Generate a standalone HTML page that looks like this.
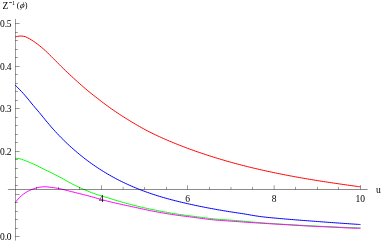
<!DOCTYPE html>
<html><head><meta charset="utf-8"><title>Plot</title>
<style>
html,body{margin:0;padding:0;background:#fff;}
body{width:382px;height:242px;overflow:hidden;font-family:"Liberation Serif",serif;}
svg{display:block;will-change:transform;}
</style></head><body>
<svg width="382" height="242" viewBox="0 0 382 242">
<path d="M15.25 36.99C15.58 36.90 16.58 36.61 17.25 36.46C17.92 36.32 18.58 36.18 19.25 36.10C19.92 36.03 20.58 36.01 21.25 36.03C21.92 36.05 22.58 36.14 23.25 36.24C23.92 36.35 24.58 36.44 25.25 36.66C25.92 36.88 26.58 37.24 27.25 37.58C27.92 37.91 28.58 38.28 29.25 38.66C29.92 39.04 30.58 39.44 31.25 39.84C31.92 40.25 32.58 40.68 33.25 41.12C33.92 41.55 34.58 42.01 35.25 42.48C35.92 42.94 36.58 43.43 37.25 43.93C37.92 44.43 38.58 44.95 39.25 45.48C39.92 46.01 40.58 46.55 41.25 47.10C41.92 47.66 42.58 48.22 43.25 48.80C43.92 49.38 44.58 49.96 45.25 50.58C45.92 51.19 46.58 51.84 47.25 52.49C47.92 53.14 48.58 53.81 49.25 54.47C49.92 55.13 50.58 55.79 51.25 56.46C51.92 57.12 52.58 57.79 53.25 58.46C53.92 59.13 54.58 59.81 55.25 60.48C55.92 61.16 56.58 61.83 57.25 62.51C57.92 63.18 58.58 63.85 59.25 64.52C59.92 65.19 60.58 65.87 61.25 66.54C61.92 67.21 62.58 67.87 63.25 68.52C63.92 69.17 64.58 69.79 65.25 70.43C65.92 71.06 66.58 71.68 67.25 72.31C67.92 72.94 68.58 73.56 69.25 74.18C69.92 74.81 70.58 75.43 71.25 76.04C71.92 76.66 72.58 77.27 73.25 77.89C73.92 78.50 74.58 79.11 75.25 79.71C75.92 80.32 76.58 80.92 77.25 81.52C77.92 82.13 78.58 82.72 79.25 83.32C79.92 83.91 80.58 84.51 81.25 85.09C81.92 85.68 82.58 86.27 83.25 86.85C83.92 87.43 84.58 88.02 85.25 88.59C85.92 89.16 86.58 89.73 87.25 90.28C87.92 90.84 88.58 91.38 89.25 91.93C89.92 92.47 90.58 93.00 91.25 93.53C91.92 94.06 92.58 94.58 93.25 95.10C93.92 95.62 94.58 96.14 95.25 96.66C95.92 97.17 96.58 97.69 97.25 98.20C97.92 98.72 98.58 99.23 99.25 99.75C99.92 100.27 100.58 100.79 101.25 101.30C101.92 101.82 102.58 102.33 103.25 102.83C103.92 103.34 104.58 103.84 105.25 104.33C105.92 104.83 106.58 105.32 107.25 105.81C107.92 106.30 108.58 106.78 109.25 107.26C109.92 107.74 110.58 108.21 111.25 108.68C111.92 109.15 112.58 109.62 113.25 110.08C113.92 110.54 114.58 111.00 115.25 111.46C115.92 111.91 116.58 112.36 117.25 112.81C117.92 113.25 118.58 113.69 119.25 114.13C119.92 114.57 120.58 115.00 121.25 115.43C121.92 115.86 122.58 116.29 123.25 116.71C123.92 117.13 124.58 117.55 125.25 117.97C125.92 118.38 126.58 118.80 127.25 119.21C127.92 119.62 128.58 120.03 129.25 120.44C129.92 120.85 130.58 121.26 131.25 121.66C131.92 122.07 132.58 122.47 133.25 122.87C133.92 123.27 134.58 123.67 135.25 124.06C135.92 124.46 136.58 124.85 137.25 125.24C137.92 125.62 138.58 126.01 139.25 126.39C139.92 126.77 140.58 127.15 141.25 127.52C141.92 127.90 142.58 128.27 143.25 128.63C143.92 129.00 144.58 129.36 145.25 129.72C145.92 130.07 146.58 130.42 147.25 130.77C147.92 131.12 148.58 131.46 149.25 131.80C149.92 132.13 150.58 132.46 151.25 132.79C151.92 133.12 152.58 133.45 153.25 133.77C153.92 134.09 154.58 134.41 155.25 134.73C155.92 135.05 156.58 135.36 157.25 135.68C157.92 135.99 158.58 136.30 159.25 136.60C159.92 136.91 160.58 137.22 161.25 137.52C161.92 137.82 162.58 138.12 163.25 138.42C163.92 138.71 164.58 139.01 165.25 139.30C165.92 139.59 166.58 139.88 167.25 140.17C167.92 140.46 168.58 140.74 169.25 141.02C169.92 141.31 170.58 141.59 171.25 141.86C171.92 142.14 172.58 142.42 173.25 142.69C173.92 142.97 174.58 143.24 175.25 143.51C175.92 143.78 176.58 144.05 177.25 144.31C177.92 144.58 178.58 144.84 179.25 145.10C179.92 145.37 180.58 145.63 181.25 145.88C181.92 146.14 182.58 146.40 183.25 146.65C183.92 146.91 184.58 147.16 185.25 147.41C185.92 147.66 186.58 147.91 187.25 148.16C187.92 148.41 188.58 148.65 189.25 148.90C189.92 149.14 190.58 149.38 191.25 149.62C191.92 149.87 192.58 150.10 193.25 150.34C193.92 150.58 194.58 150.82 195.25 151.05C195.92 151.29 196.58 151.52 197.25 151.75C197.92 151.99 198.58 152.22 199.25 152.44C199.92 152.67 200.58 152.90 201.25 153.13C201.92 153.35 202.58 153.58 203.25 153.80C203.92 154.02 204.58 154.24 205.25 154.46C205.92 154.68 206.58 154.90 207.25 155.12C207.92 155.34 208.58 155.55 209.25 155.77C209.92 155.98 210.58 156.19 211.25 156.41C211.92 156.62 212.58 156.83 213.25 157.04C213.92 157.25 214.58 157.45 215.25 157.66C215.92 157.86 216.58 158.07 217.25 158.27C217.92 158.48 218.58 158.68 219.25 158.88C219.92 159.08 220.58 159.28 221.25 159.47C221.92 159.67 222.58 159.87 223.25 160.06C223.92 160.26 224.58 160.45 225.25 160.65C225.92 160.84 226.58 161.03 227.25 161.22C227.92 161.41 228.58 161.60 229.25 161.79C229.92 161.97 230.58 162.16 231.25 162.34C231.92 162.53 232.58 162.71 233.25 162.90C233.92 163.08 234.58 163.26 235.25 163.44C235.92 163.62 236.58 163.80 237.25 163.98C237.92 164.15 238.58 164.33 239.25 164.50C239.92 164.68 240.58 164.85 241.25 165.03C241.92 165.20 242.58 165.37 243.25 165.54C243.92 165.71 244.58 165.88 245.25 166.05C245.92 166.22 246.58 166.39 247.25 166.55C247.92 166.72 248.58 166.88 249.25 167.05C249.92 167.21 250.58 167.37 251.25 167.53C251.92 167.70 252.58 167.86 253.25 168.02C253.92 168.18 254.58 168.33 255.25 168.49C255.92 168.65 256.58 168.80 257.25 168.96C257.92 169.11 258.58 169.27 259.25 169.42C259.92 169.58 260.58 169.73 261.25 169.88C261.92 170.03 262.58 170.18 263.25 170.33C263.92 170.48 264.58 170.63 265.25 170.77C265.92 170.92 266.58 171.07 267.25 171.21C267.92 171.36 268.58 171.50 269.25 171.64C269.92 171.79 270.58 171.93 271.25 172.07C271.92 172.21 272.58 172.35 273.25 172.49C273.92 172.63 274.58 172.77 275.25 172.91C275.92 173.05 276.58 173.18 277.25 173.32C277.92 173.46 278.58 173.59 279.25 173.72C279.92 173.86 280.58 173.99 281.25 174.12C281.92 174.26 282.58 174.39 283.25 174.52C283.92 174.65 284.58 174.78 285.25 174.91C285.92 175.04 286.58 175.17 287.25 175.30C287.92 175.42 288.58 175.55 289.25 175.68C289.92 175.80 290.58 175.93 291.25 176.05C291.92 176.18 292.58 176.30 293.25 176.42C293.92 176.54 294.58 176.67 295.25 176.79C295.92 176.91 296.58 177.03 297.25 177.15C297.92 177.27 298.58 177.39 299.25 177.51C299.92 177.63 300.58 177.74 301.25 177.86C301.92 177.98 302.58 178.10 303.25 178.21C303.92 178.33 304.58 178.44 305.25 178.56C305.92 178.67 306.58 178.78 307.25 178.90C307.92 179.01 308.58 179.12 309.25 179.24C309.92 179.35 310.58 179.46 311.25 179.57C311.92 179.68 312.58 179.79 313.25 179.90C313.92 180.01 314.58 180.12 315.25 180.23C315.92 180.33 316.58 180.44 317.25 180.55C317.92 180.66 318.58 180.76 319.25 180.87C319.92 180.97 320.58 181.08 321.25 181.18C321.92 181.29 322.58 181.39 323.25 181.50C323.92 181.60 324.58 181.71 325.25 181.81C325.92 181.91 326.58 182.01 327.25 182.12C327.92 182.22 328.58 182.32 329.25 182.42C329.92 182.52 330.58 182.62 331.25 182.72C331.92 182.82 332.58 182.92 333.25 183.02C333.92 183.12 334.58 183.22 335.25 183.32C335.92 183.41 336.58 183.51 337.25 183.61C337.92 183.71 338.58 183.80 339.25 183.90C339.92 184.00 340.58 184.09 341.25 184.19C341.92 184.28 342.58 184.38 343.25 184.48C343.92 184.57 344.58 184.67 345.25 184.76C345.92 184.85 346.58 184.95 347.25 185.04C347.92 185.14 348.58 185.23 349.25 185.32C349.92 185.42 350.58 185.51 351.25 185.60C351.92 185.69 352.58 185.79 353.25 185.88C353.92 185.97 354.58 186.06 355.25 186.15C355.92 186.25 356.58 186.34 357.25 186.43C357.92 186.52 358.72 186.63 359.25 186.70C359.78 186.77 360.25 186.84 360.45 186.86" stroke="#ff0000" stroke-width="1.0" fill="none" stroke-linejoin="round"/>
<path d="M15.25 85.15C15.58 85.49 16.58 86.48 17.25 87.15C17.92 87.83 18.58 88.52 19.25 89.21C19.92 89.90 20.58 90.58 21.25 91.29C21.92 91.99 22.58 92.69 23.25 93.43C23.92 94.17 24.58 94.95 25.25 95.72C25.92 96.50 26.58 97.27 27.25 98.07C27.92 98.86 28.58 99.67 29.25 100.50C29.92 101.32 30.58 102.20 31.25 103.02C31.92 103.85 32.58 104.63 33.25 105.43C33.92 106.22 34.58 107.00 35.25 107.79C35.92 108.57 36.58 109.35 37.25 110.13C37.92 110.91 38.58 111.69 39.25 112.48C39.92 113.26 40.58 114.05 41.25 114.86C41.92 115.67 42.58 116.52 43.25 117.35C43.92 118.18 44.58 119.02 45.25 119.84C45.92 120.66 46.58 121.46 47.25 122.26C47.92 123.06 48.58 123.86 49.25 124.64C49.92 125.43 50.58 126.21 51.25 126.97C51.92 127.74 52.58 128.49 53.25 129.23C53.92 129.98 54.58 130.72 55.25 131.44C55.92 132.17 56.58 132.89 57.25 133.60C57.92 134.31 58.58 135.00 59.25 135.69C59.92 136.38 60.58 137.06 61.25 137.74C61.92 138.41 62.58 139.08 63.25 139.73C63.92 140.39 64.58 141.04 65.25 141.69C65.92 142.33 66.58 142.97 67.25 143.60C67.92 144.23 68.58 144.85 69.25 145.47C69.92 146.08 70.58 146.69 71.25 147.29C71.92 147.89 72.58 148.49 73.25 149.08C73.92 149.67 74.58 150.25 75.25 150.82C75.92 151.40 76.58 151.96 77.25 152.52C77.92 153.09 78.58 153.64 79.25 154.19C79.92 154.74 80.58 155.28 81.25 155.82C81.92 156.35 82.58 156.88 83.25 157.40C83.92 157.93 84.58 158.44 85.25 158.96C85.92 159.47 86.58 159.97 87.25 160.47C87.92 160.97 88.58 161.46 89.25 161.95C89.92 162.44 90.58 162.92 91.25 163.40C91.92 163.87 92.58 164.34 93.25 164.81C93.92 165.27 94.58 165.73 95.25 166.18C95.92 166.64 96.58 167.09 97.25 167.53C97.92 167.97 98.58 168.41 99.25 168.84C99.92 169.27 100.58 169.70 101.25 170.12C101.92 170.55 102.58 170.96 103.25 171.37C103.92 171.79 104.58 172.19 105.25 172.60C105.92 173.00 106.58 173.40 107.25 173.79C107.92 174.18 108.58 174.57 109.25 174.95C109.92 175.34 110.58 175.71 111.25 176.09C111.92 176.46 112.58 176.83 113.25 177.20C113.92 177.56 114.58 177.92 115.25 178.28C115.92 178.63 116.58 178.98 117.25 179.33C117.92 179.68 118.58 180.02 119.25 180.36C119.92 180.70 120.58 181.03 121.25 181.36C121.92 181.69 122.58 182.02 123.25 182.34C123.92 182.66 124.58 182.98 125.25 183.29C125.92 183.61 126.58 183.92 127.25 184.22C127.92 184.53 128.58 184.83 129.25 185.13C129.92 185.43 130.58 185.72 131.25 186.01C131.92 186.30 132.58 186.59 133.25 186.88C133.92 187.16 134.58 187.44 135.25 187.71C135.92 187.99 136.58 188.26 137.25 188.53C137.92 188.80 138.58 189.07 139.25 189.33C139.92 189.59 140.58 189.85 141.25 190.11C141.92 190.36 142.58 190.61 143.25 190.86C143.92 191.11 144.58 191.36 145.25 191.60C145.92 191.85 146.58 192.08 147.25 192.32C147.92 192.56 148.58 192.79 149.25 193.02C149.92 193.25 150.58 193.48 151.25 193.71C151.92 193.93 152.58 194.15 153.25 194.37C153.92 194.59 154.58 194.81 155.25 195.02C155.92 195.24 156.58 195.45 157.25 195.66C157.92 195.87 158.58 196.07 159.25 196.28C159.92 196.48 160.58 196.68 161.25 196.88C161.92 197.08 162.58 197.27 163.25 197.47C163.92 197.66 164.58 197.85 165.25 198.04C165.92 198.23 166.58 198.42 167.25 198.60C167.92 198.79 168.58 198.97 169.25 199.15C169.92 199.33 170.58 199.51 171.25 199.69C171.92 199.87 172.58 200.04 173.25 200.21C173.92 200.39 174.58 200.56 175.25 200.73C175.92 200.90 176.58 201.06 177.25 201.23C177.92 201.40 178.58 201.56 179.25 201.72C179.92 201.88 180.58 202.04 181.25 202.20C181.92 202.36 182.58 202.52 183.25 202.68C183.92 202.83 184.58 202.99 185.25 203.14C185.92 203.29 186.58 203.45 187.25 203.60C187.92 203.75 188.58 203.90 189.25 204.05C189.92 204.19 190.58 204.34 191.25 204.49C191.92 204.63 192.58 204.78 193.25 204.92C193.92 205.07 194.58 205.21 195.25 205.35C195.92 205.49 196.58 205.63 197.25 205.77C197.92 205.91 198.58 206.05 199.25 206.18C199.92 206.32 200.58 206.46 201.25 206.59C201.92 206.72 202.58 206.86 203.25 206.99C203.92 207.12 204.58 207.25 205.25 207.38C205.92 207.51 206.58 207.64 207.25 207.77C207.92 207.90 208.58 208.03 209.25 208.15C209.92 208.28 210.58 208.40 211.25 208.53C211.92 208.65 212.58 208.77 213.25 208.89C213.92 209.02 214.58 209.14 215.25 209.26C215.92 209.38 216.58 209.50 217.25 209.61C217.92 209.73 218.58 209.85 219.25 209.96C219.92 210.08 220.58 210.19 221.25 210.31C221.92 210.42 222.58 210.53 223.25 210.65C223.92 210.76 224.58 210.87 225.25 210.98C225.92 211.09 226.58 211.20 227.25 211.31C227.92 211.41 228.58 211.52 229.25 211.63C229.92 211.73 230.58 211.84 231.25 211.94C231.92 212.05 232.58 212.15 233.25 212.25C233.92 212.36 234.58 212.46 235.25 212.56C235.92 212.66 236.58 212.76 237.25 212.86C237.92 212.96 238.58 213.05 239.25 213.15C239.92 213.25 240.58 213.35 241.25 213.45C241.92 213.55 242.58 213.66 243.25 213.76C243.92 213.87 244.58 213.98 245.25 214.09C245.92 214.21 246.58 214.32 247.25 214.43C247.92 214.55 248.58 214.67 249.25 214.78C249.92 214.90 250.58 215.01 251.25 215.13C251.92 215.24 252.58 215.36 253.25 215.47C253.92 215.58 254.58 215.69 255.25 215.80C255.92 215.91 256.58 216.01 257.25 216.11C257.92 216.22 258.58 216.31 259.25 216.41C259.92 216.50 260.58 216.59 261.25 216.67C261.92 216.76 262.58 216.84 263.25 216.91C263.92 216.99 264.58 217.06 265.25 217.14C265.92 217.21 266.58 217.28 267.25 217.35C267.92 217.41 268.58 217.48 269.25 217.54C269.92 217.61 270.58 217.67 271.25 217.74C271.92 217.80 272.58 217.86 273.25 217.92C273.92 217.98 274.58 218.04 275.25 218.11C275.92 218.17 276.58 218.23 277.25 218.29C277.92 218.35 278.58 218.41 279.25 218.47C279.92 218.53 280.58 218.59 281.25 218.65C281.92 218.71 282.58 218.77 283.25 218.82C283.92 218.88 284.58 218.94 285.25 219.00C285.92 219.05 286.58 219.11 287.25 219.16C287.92 219.22 288.58 219.28 289.25 219.33C289.92 219.39 290.58 219.44 291.25 219.50C291.92 219.55 292.58 219.61 293.25 219.66C293.92 219.71 294.58 219.77 295.25 219.82C295.92 219.88 296.58 219.93 297.25 219.98C297.92 220.04 298.58 220.09 299.25 220.14C299.92 220.19 300.58 220.24 301.25 220.29C301.92 220.34 302.58 220.39 303.25 220.44C303.92 220.49 304.58 220.54 305.25 220.59C305.92 220.64 306.58 220.69 307.25 220.74C307.92 220.79 308.58 220.84 309.25 220.89C309.92 220.94 310.58 220.99 311.25 221.04C311.92 221.09 312.58 221.14 313.25 221.19C313.92 221.24 314.58 221.28 315.25 221.33C315.92 221.38 316.58 221.43 317.25 221.48C317.92 221.53 318.58 221.58 319.25 221.63C319.92 221.69 320.58 221.74 321.25 221.79C321.92 221.84 322.58 221.89 323.25 221.94C323.92 221.99 324.58 222.04 325.25 222.09C325.92 222.14 326.58 222.19 327.25 222.24C327.92 222.28 328.58 222.33 329.25 222.38C329.92 222.43 330.58 222.48 331.25 222.53C331.92 222.57 332.58 222.62 333.25 222.67C333.92 222.72 334.58 222.76 335.25 222.81C335.92 222.86 336.58 222.91 337.25 222.95C337.92 223.00 338.58 223.05 339.25 223.09C339.92 223.14 340.58 223.19 341.25 223.23C341.92 223.28 342.58 223.32 343.25 223.37C343.92 223.42 344.58 223.46 345.25 223.51C345.92 223.55 346.58 223.60 347.25 223.64C347.92 223.69 348.58 223.73 349.25 223.78C349.92 223.82 350.58 223.87 351.25 223.91C351.92 223.96 352.58 224.00 353.25 224.05C353.92 224.09 354.58 224.14 355.25 224.18C355.92 224.23 356.58 224.27 357.25 224.32C357.92 224.36 358.72 224.41 359.25 224.45C359.78 224.48 360.25 224.52 360.45 224.53" stroke="#0000ff" stroke-width="1.0" fill="none" stroke-linejoin="round"/>
<path d="M15.25 158.26C15.58 158.28 16.58 158.30 17.25 158.36C17.92 158.42 18.58 158.48 19.25 158.62C19.92 158.75 20.58 158.96 21.25 159.17C21.92 159.39 22.58 159.66 23.25 159.90C23.92 160.15 24.58 160.40 25.25 160.65C25.92 160.91 26.58 161.17 27.25 161.44C27.92 161.70 28.58 161.97 29.25 162.25C29.92 162.53 30.58 162.80 31.25 163.09C31.92 163.37 32.58 163.66 33.25 163.96C33.92 164.25 34.58 164.55 35.25 164.86C35.92 165.17 36.58 165.48 37.25 165.81C37.92 166.14 38.58 166.48 39.25 166.83C39.92 167.17 40.58 167.54 41.25 167.89C41.92 168.24 42.58 168.59 43.25 168.93C43.92 169.27 44.58 169.59 45.25 169.91C45.92 170.22 46.58 170.52 47.25 170.82C47.92 171.13 48.58 171.42 49.25 171.73C49.92 172.04 50.58 172.35 51.25 172.68C51.92 173.02 52.58 173.37 53.25 173.71C53.92 174.06 54.58 174.41 55.25 174.75C55.92 175.10 56.58 175.45 57.25 175.80C57.92 176.14 58.58 176.49 59.25 176.84C59.92 177.19 60.58 177.53 61.25 177.89C61.92 178.25 62.58 178.62 63.25 178.99C63.92 179.36 64.58 179.75 65.25 180.13C65.92 180.51 66.58 180.89 67.25 181.27C67.92 181.65 68.58 182.03 69.25 182.40C69.92 182.77 70.58 183.13 71.25 183.48C71.92 183.83 72.58 184.17 73.25 184.50C73.92 184.84 74.58 185.16 75.25 185.48C75.92 185.80 76.58 186.12 77.25 186.44C77.92 186.76 78.58 187.07 79.25 187.38C79.92 187.68 80.58 187.99 81.25 188.29C81.92 188.59 82.58 188.89 83.25 189.18C83.92 189.47 84.58 189.76 85.25 190.04C85.92 190.33 86.58 190.61 87.25 190.89C87.92 191.16 88.58 191.44 89.25 191.70C89.92 191.97 90.58 192.24 91.25 192.50C91.92 192.75 92.58 193.00 93.25 193.25C93.92 193.50 94.58 193.74 95.25 193.98C95.92 194.21 96.58 194.45 97.25 194.67C97.92 194.90 98.58 195.11 99.25 195.31C99.92 195.51 100.58 195.69 101.25 195.88C101.92 196.08 102.58 196.26 103.25 196.45C103.92 196.65 104.58 196.85 105.25 197.05C105.92 197.24 106.58 197.43 107.25 197.63C107.92 197.83 108.58 198.03 109.25 198.23C109.92 198.44 110.58 198.66 111.25 198.87C111.92 199.08 112.58 199.30 113.25 199.50C113.92 199.71 114.58 199.92 115.25 200.12C115.92 200.33 116.58 200.53 117.25 200.73C117.92 200.93 118.58 201.13 119.25 201.32C119.92 201.52 120.58 201.71 121.25 201.90C121.92 202.10 122.58 202.29 123.25 202.47C123.92 202.66 124.58 202.85 125.25 203.03C125.92 203.22 126.58 203.40 127.25 203.58C127.92 203.76 128.58 203.94 129.25 204.11C129.92 204.29 130.58 204.47 131.25 204.64C131.92 204.81 132.58 204.98 133.25 205.15C133.92 205.32 134.58 205.49 135.25 205.66C135.92 205.82 136.58 205.99 137.25 206.15C137.92 206.31 138.58 206.47 139.25 206.63C139.92 206.79 140.58 206.95 141.25 207.10C141.92 207.26 142.58 207.41 143.25 207.57C143.92 207.72 144.58 207.87 145.25 208.02C145.92 208.17 146.58 208.32 147.25 208.46C147.92 208.61 148.58 208.75 149.25 208.90C149.92 209.04 150.58 209.18 151.25 209.32C151.92 209.46 152.58 209.60 153.25 209.74C153.92 209.87 154.58 210.01 155.25 210.14C155.92 210.28 156.58 210.41 157.25 210.54C157.92 210.68 158.58 210.81 159.25 210.94C159.92 211.06 160.58 211.19 161.25 211.32C161.92 211.44 162.58 211.57 163.25 211.69C163.92 211.82 164.58 211.94 165.25 212.06C165.92 212.18 166.58 212.30 167.25 212.42C167.92 212.54 168.58 212.66 169.25 212.77C169.92 212.89 170.58 213.00 171.25 213.12C171.92 213.23 172.58 213.34 173.25 213.45C173.92 213.56 174.58 213.66 175.25 213.77C175.92 213.87 176.58 213.98 177.25 214.08C177.92 214.18 178.58 214.28 179.25 214.38C179.92 214.47 180.58 214.57 181.25 214.66C181.92 214.76 182.58 214.85 183.25 214.95C183.92 215.04 184.58 215.13 185.25 215.22C185.92 215.31 186.58 215.40 187.25 215.49C187.92 215.58 188.58 215.67 189.25 215.75C189.92 215.84 190.58 215.93 191.25 216.01C191.92 216.10 192.58 216.19 193.25 216.28C193.92 216.36 194.58 216.45 195.25 216.54C195.92 216.63 196.58 216.72 197.25 216.80C197.92 216.89 198.58 216.98 199.25 217.07C199.92 217.16 200.58 217.25 201.25 217.34C201.92 217.43 202.58 217.51 203.25 217.60C203.92 217.69 204.58 217.78 205.25 217.86C205.92 217.95 206.58 218.03 207.25 218.11C207.92 218.20 208.58 218.28 209.25 218.36C209.92 218.44 210.58 218.52 211.25 218.60C211.92 218.68 212.58 218.75 213.25 218.82C213.92 218.89 214.58 218.96 215.25 219.02C215.92 219.08 216.58 219.13 217.25 219.18C217.92 219.23 218.58 219.28 219.25 219.33C219.92 219.38 220.58 219.42 221.25 219.47C221.92 219.51 222.58 219.56 223.25 219.60C223.92 219.65 224.58 219.70 225.25 219.75C225.92 219.80 226.58 219.85 227.25 219.90C227.92 219.96 228.58 220.01 229.25 220.05C229.92 220.10 230.58 220.15 231.25 220.20C231.92 220.25 232.58 220.30 233.25 220.35C233.92 220.39 234.58 220.44 235.25 220.49C235.92 220.54 236.58 220.59 237.25 220.65C237.92 220.70 238.58 220.75 239.25 220.81C239.92 220.86 240.58 220.92 241.25 220.98C241.92 221.04 242.58 221.11 243.25 221.17C243.92 221.24 244.58 221.30 245.25 221.37C245.92 221.44 246.58 221.51 247.25 221.57C247.92 221.64 248.58 221.71 249.25 221.77C249.92 221.83 250.58 221.90 251.25 221.95C251.92 222.01 252.58 222.07 253.25 222.13C253.92 222.19 254.58 222.24 255.25 222.30C255.92 222.36 256.58 222.42 257.25 222.47C257.92 222.53 258.58 222.59 259.25 222.64C259.92 222.70 260.58 222.75 261.25 222.80C261.92 222.85 262.58 222.90 263.25 222.95C263.92 223.00 264.58 223.05 265.25 223.10C265.92 223.15 266.58 223.20 267.25 223.25C267.92 223.30 268.58 223.34 269.25 223.39C269.92 223.44 270.58 223.48 271.25 223.53C271.92 223.58 272.58 223.62 273.25 223.67C273.92 223.71 274.58 223.76 275.25 223.80C275.92 223.84 276.58 223.89 277.25 223.93C277.92 223.97 278.58 224.02 279.25 224.06C279.92 224.10 280.58 224.14 281.25 224.18C281.92 224.22 282.58 224.26 283.25 224.30C283.92 224.35 284.58 224.38 285.25 224.42C285.92 224.46 286.58 224.50 287.25 224.54C287.92 224.58 288.58 224.62 289.25 224.66C289.92 224.69 290.58 224.73 291.25 224.77C291.92 224.81 292.58 224.84 293.25 224.88C293.92 224.92 294.58 224.95 295.25 224.99C295.92 225.02 296.58 225.06 297.25 225.09C297.92 225.13 298.58 225.17 299.25 225.20C299.92 225.24 300.58 225.27 301.25 225.31C301.92 225.34 302.58 225.38 303.25 225.41C303.92 225.45 304.58 225.48 305.25 225.52C305.92 225.55 306.58 225.59 307.25 225.62C307.92 225.66 308.58 225.69 309.25 225.73C309.92 225.76 310.58 225.80 311.25 225.83C311.92 225.87 312.58 225.90 313.25 225.94C313.92 225.97 314.58 226.00 315.25 226.04C315.92 226.07 316.58 226.11 317.25 226.14C317.92 226.17 318.58 226.21 319.25 226.24C319.92 226.27 320.58 226.31 321.25 226.34C321.92 226.37 322.58 226.41 323.25 226.44C323.92 226.47 324.58 226.51 325.25 226.54C325.92 226.57 326.58 226.61 327.25 226.64C327.92 226.67 328.58 226.70 329.25 226.73C329.92 226.77 330.58 226.80 331.25 226.83C331.92 226.86 332.58 226.89 333.25 226.92C333.92 226.95 334.58 226.98 335.25 227.01C335.92 227.04 336.58 227.07 337.25 227.10C337.92 227.13 338.58 227.16 339.25 227.19C339.92 227.22 340.58 227.25 341.25 227.28C341.92 227.31 342.58 227.33 343.25 227.36C343.92 227.39 344.58 227.42 345.25 227.45C345.92 227.47 346.58 227.50 347.25 227.53C347.92 227.56 348.58 227.58 349.25 227.61C349.92 227.64 350.58 227.66 351.25 227.69C351.92 227.72 352.58 227.74 353.25 227.77C353.92 227.80 354.58 227.82 355.25 227.85C355.92 227.87 356.58 227.90 357.25 227.92C357.92 227.95 358.72 227.98 359.25 228.00C359.78 228.02 360.25 228.04 360.45 228.04" stroke="#00ff00" stroke-width="1.0" fill="none" stroke-linejoin="round"/>
<path d="M15.25 202.71C15.58 202.27 16.58 200.86 17.25 200.05C17.92 199.24 18.58 198.52 19.25 197.83C19.92 197.14 20.58 196.51 21.25 195.91C21.92 195.32 22.58 194.76 23.25 194.24C23.92 193.73 24.58 193.26 25.25 192.83C25.92 192.39 26.58 192.00 27.25 191.63C27.92 191.25 28.58 190.91 29.25 190.59C29.92 190.26 30.58 189.95 31.25 189.67C31.92 189.38 32.58 189.11 33.25 188.86C33.92 188.61 34.58 188.39 35.25 188.19C35.92 187.99 36.58 187.82 37.25 187.67C37.92 187.51 38.58 187.38 39.25 187.26C39.92 187.14 40.58 187.05 41.25 186.97C41.92 186.90 42.58 186.84 43.25 186.81C43.92 186.78 44.58 186.78 45.25 186.80C45.92 186.81 46.58 186.86 47.25 186.92C47.92 186.98 48.58 187.06 49.25 187.14C49.92 187.22 50.58 187.30 51.25 187.39C51.92 187.47 52.58 187.55 53.25 187.64C53.92 187.72 54.58 187.82 55.25 187.92C55.92 188.02 56.58 188.13 57.25 188.24C57.92 188.36 58.58 188.47 59.25 188.60C59.92 188.73 60.58 188.87 61.25 189.02C61.92 189.17 62.58 189.34 63.25 189.50C63.92 189.67 64.58 189.84 65.25 190.01C65.92 190.18 66.58 190.35 67.25 190.52C67.92 190.70 68.58 190.88 69.25 191.05C69.92 191.23 70.58 191.40 71.25 191.57C71.92 191.74 72.58 191.91 73.25 192.07C73.92 192.24 74.58 192.40 75.25 192.56C75.92 192.72 76.58 192.89 77.25 193.05C77.92 193.22 78.58 193.38 79.25 193.55C79.92 193.72 80.58 193.89 81.25 194.05C81.92 194.22 82.58 194.38 83.25 194.55C83.92 194.72 84.58 194.88 85.25 195.05C85.92 195.22 86.58 195.39 87.25 195.56C87.92 195.73 88.58 195.91 89.25 196.09C89.92 196.28 90.58 196.47 91.25 196.66C91.92 196.84 92.58 197.04 93.25 197.23C93.92 197.42 94.58 197.61 95.25 197.80C95.92 197.99 96.58 198.18 97.25 198.38C97.92 198.57 98.58 198.76 99.25 198.95C99.92 199.14 100.58 199.32 101.25 199.51C101.92 199.69 102.58 199.88 103.25 200.06C103.92 200.24 104.58 200.42 105.25 200.59C105.92 200.77 106.58 200.94 107.25 201.10C107.92 201.27 108.58 201.43 109.25 201.59C109.92 201.75 110.58 201.91 111.25 202.07C111.92 202.22 112.58 202.38 113.25 202.53C113.92 202.68 114.58 202.84 115.25 202.99C115.92 203.14 116.58 203.29 117.25 203.44C117.92 203.59 118.58 203.74 119.25 203.90C119.92 204.05 120.58 204.20 121.25 204.35C121.92 204.50 122.58 204.65 123.25 204.80C123.92 204.94 124.58 205.08 125.25 205.23C125.92 205.37 126.58 205.51 127.25 205.65C127.92 205.80 128.58 205.94 129.25 206.08C129.92 206.22 130.58 206.36 131.25 206.50C131.92 206.65 132.58 206.79 133.25 206.94C133.92 207.08 134.58 207.23 135.25 207.38C135.92 207.53 136.58 207.68 137.25 207.83C137.92 207.99 138.58 208.14 139.25 208.28C139.92 208.43 140.58 208.58 141.25 208.73C141.92 208.88 142.58 209.02 143.25 209.17C143.92 209.31 144.58 209.45 145.25 209.59C145.92 209.74 146.58 209.88 147.25 210.02C147.92 210.15 148.58 210.29 149.25 210.43C149.92 210.56 150.58 210.70 151.25 210.83C151.92 210.96 152.58 211.09 153.25 211.22C153.92 211.35 154.58 211.48 155.25 211.61C155.92 211.73 156.58 211.86 157.25 211.98C157.92 212.10 158.58 212.23 159.25 212.35C159.92 212.47 160.58 212.59 161.25 212.70C161.92 212.82 162.58 212.94 163.25 213.05C163.92 213.16 164.58 213.28 165.25 213.39C165.92 213.50 166.58 213.61 167.25 213.71C167.92 213.82 168.58 213.93 169.25 214.03C169.92 214.14 170.58 214.24 171.25 214.34C171.92 214.44 172.58 214.54 173.25 214.64C173.92 214.74 174.58 214.84 175.25 214.94C175.92 215.03 176.58 215.13 177.25 215.22C177.92 215.32 178.58 215.41 179.25 215.50C179.92 215.60 180.58 215.69 181.25 215.78C181.92 215.87 182.58 215.96 183.25 216.04C183.92 216.13 184.58 216.22 185.25 216.31C185.92 216.39 186.58 216.48 187.25 216.56C187.92 216.65 188.58 216.73 189.25 216.81C189.92 216.90 190.58 216.98 191.25 217.06C191.92 217.15 192.58 217.24 193.25 217.32C193.92 217.41 194.58 217.50 195.25 217.59C195.92 217.67 196.58 217.76 197.25 217.85C197.92 217.94 198.58 218.03 199.25 218.12C199.92 218.21 200.58 218.30 201.25 218.39C201.92 218.48 202.58 218.57 203.25 218.66C203.92 218.74 204.58 218.83 205.25 218.92C205.92 219.00 206.58 219.09 207.25 219.17C207.92 219.25 208.58 219.33 209.25 219.41C209.92 219.48 210.58 219.56 211.25 219.63C211.92 219.70 212.58 219.77 213.25 219.84C213.92 219.90 214.58 219.97 215.25 220.02C215.92 220.08 216.58 220.13 217.25 220.19C217.92 220.24 218.58 220.29 219.25 220.34C219.92 220.39 220.58 220.43 221.25 220.48C221.92 220.53 222.58 220.57 223.25 220.62C223.92 220.67 224.58 220.71 225.25 220.76C225.92 220.81 226.58 220.86 227.25 220.91C227.92 220.95 228.58 221.00 229.25 221.04C229.92 221.09 230.58 221.13 231.25 221.18C231.92 221.22 232.58 221.26 233.25 221.31C233.92 221.35 234.58 221.40 235.25 221.44C235.92 221.49 236.58 221.53 237.25 221.58C237.92 221.63 238.58 221.68 239.25 221.73C239.92 221.78 240.58 221.83 241.25 221.88C241.92 221.93 242.58 221.98 243.25 222.03C243.92 222.08 244.58 222.13 245.25 222.18C245.92 222.22 246.58 222.27 247.25 222.31C247.92 222.36 248.58 222.40 249.25 222.45C249.92 222.49 250.58 222.53 251.25 222.58C251.92 222.62 252.58 222.66 253.25 222.70C253.92 222.74 254.58 222.79 255.25 222.83C255.92 222.87 256.58 222.91 257.25 222.95C257.92 222.99 258.58 223.03 259.25 223.07C259.92 223.12 260.58 223.16 261.25 223.20C261.92 223.24 262.58 223.28 263.25 223.32C263.92 223.37 264.58 223.41 265.25 223.45C265.92 223.49 266.58 223.53 267.25 223.57C267.92 223.61 268.58 223.65 269.25 223.69C269.92 223.73 270.58 223.78 271.25 223.82C271.92 223.86 272.58 223.90 273.25 223.94C273.92 223.98 274.58 224.02 275.25 224.06C275.92 224.09 276.58 224.13 277.25 224.17C277.92 224.21 278.58 224.25 279.25 224.29C279.92 224.33 280.58 224.37 281.25 224.40C281.92 224.44 282.58 224.48 283.25 224.52C283.92 224.56 284.58 224.60 285.25 224.64C285.92 224.68 286.58 224.71 287.25 224.75C287.92 224.79 288.58 224.83 289.25 224.87C289.92 224.92 290.58 224.96 291.25 225.00C291.92 225.04 292.58 225.08 293.25 225.12C293.92 225.17 294.58 225.21 295.25 225.25C295.92 225.30 296.58 225.34 297.25 225.38C297.92 225.42 298.58 225.46 299.25 225.51C299.92 225.55 300.58 225.59 301.25 225.63C301.92 225.67 302.58 225.71 303.25 225.75C303.92 225.79 304.58 225.82 305.25 225.86C305.92 225.90 306.58 225.94 307.25 225.97C307.92 226.01 308.58 226.05 309.25 226.08C309.92 226.12 310.58 226.15 311.25 226.19C311.92 226.22 312.58 226.26 313.25 226.29C313.92 226.32 314.58 226.36 315.25 226.39C315.92 226.42 316.58 226.45 317.25 226.48C317.92 226.52 318.58 226.55 319.25 226.58C319.92 226.61 320.58 226.63 321.25 226.66C321.92 226.69 322.58 226.72 323.25 226.75C323.92 226.77 324.58 226.80 325.25 226.83C325.92 226.85 326.58 226.88 327.25 226.90C327.92 226.93 328.58 226.95 329.25 226.98C329.92 227.01 330.58 227.04 331.25 227.08C331.92 227.11 332.58 227.14 333.25 227.18C333.92 227.21 334.58 227.24 335.25 227.27C335.92 227.31 336.58 227.34 337.25 227.38C337.92 227.41 338.58 227.45 339.25 227.49C339.92 227.52 340.58 227.56 341.25 227.59C341.92 227.63 342.58 227.66 343.25 227.70C343.92 227.73 344.58 227.77 345.25 227.80C345.92 227.83 346.58 227.86 347.25 227.89C347.92 227.91 348.58 227.94 349.25 227.96C349.92 227.99 350.58 228.01 351.25 228.03C351.92 228.06 352.58 228.08 353.25 228.10C353.92 228.12 354.58 228.14 355.25 228.16C355.92 228.17 356.58 228.19 357.25 228.21C357.92 228.22 358.72 228.24 359.25 228.25C359.78 228.26 360.25 228.26 360.45 228.27" stroke="#ff00ff" stroke-width="1.0" fill="none" stroke-linejoin="round"/>
<line x1="7.9" y1="189.5" x2="367.6" y2="189.5" stroke="#000" stroke-width="0.46"/>
<line x1="15.5" y1="18.9" x2="15.5" y2="240.6" stroke="#000" stroke-width="0.4"/>
<path d="M36.50 189.5v-2.55M58.50 189.5v-2.55M79.50 189.5v-2.55M101.50 189.5v-4.3M123.12 189.5v-2.55M144.50 189.5v-2.55M166.50 189.5v-2.55M187.50 189.5v-4.3M209.50 189.5v-2.55M231.00 189.5v-2.55M252.50 189.5v-2.55M274.15 189.5v-4.3M295.50 189.5v-2.55M317.50 189.5v-2.55M338.50 189.5v-2.55M360.50 189.5v-4.3M15.25 236.50h4.4M15.25 228.50h2.6M15.25 219.50h2.6M15.25 211.50h2.6M15.25 202.50h2.6M15.25 194.50h4.4M15.25 185.50h2.6M15.25 177.50h2.6M15.25 168.50h2.6M15.25 159.50h2.6M15.25 151.50h4.4M15.25 142.50h2.6M15.25 134.50h2.6M15.25 125.50h2.6M15.25 117.50h2.6M15.25 108.50h4.4M15.25 100.50h2.6M15.25 91.50h2.6M15.25 83.50h2.6M15.25 74.50h2.6M15.25 66.50h4.4M15.25 57.50h2.6M15.25 49.50h2.6M15.25 40.50h2.6M15.25 32.50h2.6M15.25 23.50h4.4" stroke="#000" stroke-width="0.4" fill="none"/>
<text transform="translate(101.45 201.7) scale(0.92 1)" x="0" y="0" text-anchor="middle" font-size="10.4" font-family="'Liberation Serif', serif" fill="#000">4</text>
<text transform="translate(187.75 201.7) scale(0.92 1)" x="0" y="0" text-anchor="middle" font-size="10.4" font-family="'Liberation Serif', serif" fill="#000">6</text>
<text transform="translate(274.05 201.7) scale(0.92 1)" x="0" y="0" text-anchor="middle" font-size="10.4" font-family="'Liberation Serif', serif" fill="#000">8</text>
<text transform="translate(360.35 201.7) scale(0.92 1)" x="0" y="0" text-anchor="middle" font-size="10.4" font-family="'Liberation Serif', serif" fill="#000">10</text>
<text transform="translate(0.04 26.95) scale(0.92 1)" x="0" y="0" font-size="10.4" letter-spacing="-0.2" font-family="'Liberation Serif', serif" fill="#000">0.5</text>
<text transform="translate(0.04 69.55) scale(0.92 1)" x="0" y="0" font-size="10.4" letter-spacing="-0.2" font-family="'Liberation Serif', serif" fill="#000">0.4</text>
<text transform="translate(0.04 112.15) scale(0.92 1)" x="0" y="0" font-size="10.4" letter-spacing="-0.2" font-family="'Liberation Serif', serif" fill="#000">0.3</text>
<text transform="translate(0.04 154.75) scale(0.92 1)" x="0" y="0" font-size="10.4" letter-spacing="-0.2" font-family="'Liberation Serif', serif" fill="#000">0.2</text>
<text transform="translate(0.04 239.95) scale(0.92 1)" x="0" y="0" font-size="10.4" letter-spacing="-0.2" font-family="'Liberation Serif', serif" fill="#000">0.0</text>
<text x="375.9" y="192.7" font-size="9.6" font-family="'Liberation Serif', serif" fill="#000">u</text>
<text x="2.54" y="8.6" font-size="9.5" font-family="'Liberation Serif', serif" fill="#000">Z</text>
<rect x="9.1" y="2.0" width="2.8" height="0.7" fill="#000"/>
<text x="12.05" y="4.55" font-size="6.3" font-family="'Liberation Serif', serif" fill="#000">1</text>
<text x="16.8" y="8.0" font-size="8.3" font-family="'Liberation Serif', serif" fill="#000">(</text>
<text x="24.8" y="8.0" font-size="8.3" font-family="'Liberation Serif', serif" fill="#000">)</text>
<text transform="translate(19.4 8.0) scale(1.08 1) skewX(-12)" x="0" y="0" font-size="8.3" font-style="italic" font-family="'Liberation Serif', serif" fill="#000">ϕ</text>
</svg>
</body></html>
